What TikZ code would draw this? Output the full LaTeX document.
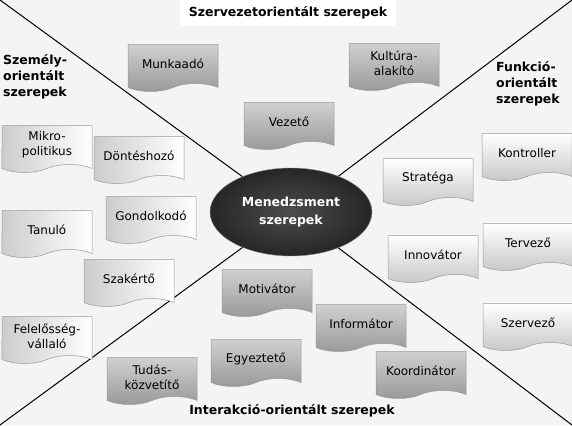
\documentclass[tikz,border=0pt]{standalone}
\usepackage{fontspec}
\setmainfont{DejaVu Sans}
\usetikzlibrary{shapes.geometric, shapes.symbols, positioning}
\definecolor{mback}{HTML}{F4F4F4}
\definecolor{mdark}{HTML}{262626}
\definecolor{mtop}{HTML}{D0D0D0}
\definecolor{mmid}{HTML}{989898}
\definecolor{medge}{HTML}{9A9A9A}
\tikzset{every node/.style={font=\fontsize{12}{15}\selectfont}}
\tikzstyle{paper} = [tape, tape bend top=none, tape bend bottom=in and out, tape bend height=8pt, minimum width=90pt, minimum height=47pt, inner sep=2pt, text centered, align=center, draw=medge, line width=0.5pt]
\tikzstyle{orgbox} = [paper, top color=mtop, bottom color=mmid]
\tikzstyle{persbox} = [paper, left color=black!20, right color=white]
\tikzstyle{funcbox} = [paper, top color=white, bottom color=black!22]
\tikzstyle{title} = [font=\bfseries\fontsize{12.5}{16}\selectfont, inner sep=2pt]
\tikzstyle{diag} = [line width=1pt, black]

\begin{document}
\begin{tikzpicture}[x=1pt, y=-1pt]
  \fill[mback] (0,0) rectangle (572,425);
  \useasboundingbox (0,0) rectangle (572,425);
  \node (mgmt) [ellipse, minimum width=162pt, minimum height=88pt, inner color=black!70, outer color=mdark, draw=black!45, text=white, align=center, font=\bfseries\fontsize{12.5}{18}\selectfont] at (291,212) {Menedzsment\\szerepek};
  \coordinate (tl) at (0,0);
  \coordinate (tr) at (572,0);
  \coordinate (bl) at (0,425);
  \coordinate (br) at (572,425);
  \draw [diag] (tl) -- (mgmt);
  \draw [diag] (tr) -- (mgmt);
  \draw [diag] (bl) -- (mgmt);
  \draw [diag] (br) -- (mgmt);

  \node (torg) [title, fill=white, minimum width=216pt, minimum height=26pt] at (288,13) {Szervezetorientált szerepek};
  \node (tpers) [title, anchor=north west, align=left] at (1,52) {Személy-\\orientált\\szerepek};
  \node (tfunc) [title, anchor=north west, align=left] at (494,59) {Funkció-\\orientált\\szerepek};
  \node (tint) [title] at (292,411) {Interakció-orientált szerepek};

  \node (munka) [orgbox] at (173,64) {Munkaadó};
  \node (vezeto) [orgbox] at (289,122) {Vezető};
  \node (kultura) [orgbox] at (394,63) {Kultúra-\\alakító};

  \node (mikro) [persbox] at (47,145) {Mikro-\\politikus};
  \node (dontes) [persbox] at (139,156) {Döntéshozó};
  \node (gondol) [persbox] at (151,216) {Gondolkodó};
  \node (tanulo) [persbox] at (47,230) {Tanuló};
  \node (szakerto) [persbox] at (129,279) {Szakértő};
  \node (felelos) [persbox] at (47,336) {Felelősség-\\vállaló};

  \node (tudas) [orgbox] at (152,377) {Tudás-\\közvetítő};
  \node (motiv) [orgbox] at (267,289) {Motivátor};
  \node (egyezt) [orgbox] at (256,359) {Egyeztető};
  \node (inform) [orgbox] at (361,324) {Informátor};
  \node (koord) [orgbox] at (421,371) {Koordinátor};

  \node (strat) [funcbox] at (428,178) {Stratéga};
  \node (kontr) [funcbox] at (527,153) {Kontroller};
  \node (innov) [funcbox] at (433,255) {Innovátor};
  \node (terv) [funcbox] at (528,243) {Tervező};
  \node (szerv) [funcbox] at (528,323) {Szervező};
\end{tikzpicture}
\end{document}
